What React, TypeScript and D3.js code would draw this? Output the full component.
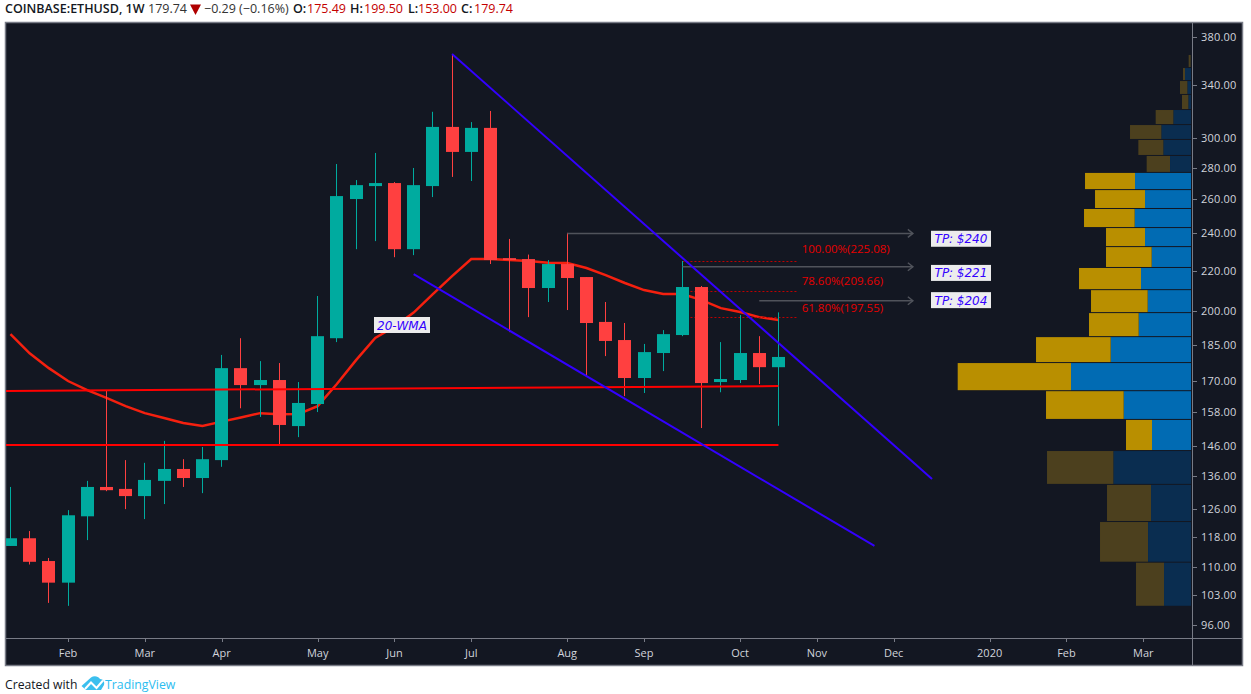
import * as d3 from 'd3'

const W = 1251
const H = 694

// weekly candles, oldest first
const OPENS = [115.5, 117.6, 111.5, 106.0, 123.8, 132.6, 132.0, 129.8, 134.5, 138.3, 135.4, 141.2, 175.1, 168.3, 170.3, 152.9, 161.0, 187.8, 260.1, 268.1, 270.0, 231.3, 268.1, 307.9, 290.4, 307.2, 226.5, 226.0, 211.2, 223.4, 216.7, 195.1, 187.0, 171.1, 181.4, 189.2, 211.7, 169.5, 170.3, 181.4, 175.49]
const HIGHS = [132.6, 119.6, 112.3, 125.6, 134.5, 166.3, 141.2, 140.3, 147.7, 141.5, 145.6, 180.6, 187.8, 178.0, 177.2, 169.5, 207.3, 282.3, 271.9, 289.7, 270.6, 279.7, 319.0, 365.2, 311.4, 319.6, 236.9, 228.4, 225.5, 240.3, 216.7, 204.4, 194.6, 185.3, 191.4, 225.0, 212.2, 186.1, 198.3, 188.7, 199.5]
const LOWS = [115.5, 110.6, 101.1, 100.4, 117.1, 131.3, 125.9, 123.0, 127.4, 132.6, 130.7, 139.0, 159.4, 156.2, 146.3, 149.0, 158.0, 186.1, 231.3, 235.7, 227.0, 228.1, 261.3, 273.9, 271.3, 223.4, 190.5, 197.3, 204.4, 200.6, 171.5, 180.1, 164.0, 165.2, 173.9, 188.7, 152.2, 165.5, 169.1, 168.7, 153.0]
const CLOSES = [117.6, 111.3, 106.0, 124.1, 132.6, 131.6, 129.8, 134.8, 138.3, 135.4, 141.5, 175.1, 168.3, 170.3, 153.3, 161.4, 188.7, 261.9, 268.7, 270.0, 231.3, 268.7, 307.9, 290.4, 307.2, 225.5, 225.5, 211.2, 223.4, 216.2, 194.6, 186.6, 171.1, 181.8, 189.6, 211.7, 169.1, 170.7, 181.4, 175.5, 179.74]
const WMA = [189.6, 181.3, 175.1, 169.9, 166.3, 163.3, 160.2, 157.6, 155.8, 154.0, 152.9, 154.5, 156.0, 157.6, 157.2, 157.3, 160.2, 168.7, 178.4, 187.9, 192.9, 199.4, 208.2, 217.2, 226.0, 226.0, 225.5, 225.0, 224.1, 223.9, 221.3, 217.7, 213.7, 210.2, 208.3, 208.3, 205.3, 201.5, 199.7, 197.3, 196.0]

const PRICE_TICKS = [380, 340, 300, 280, 260, 240, 220, 200, 185, 170, 158, 146, 136, 126, 118, 110, 103, 96]
const TIME_TICK_BARS = [3, 7, 11, 16, 20, 24, 29, 33, 38, 42, 46, 51, 55, 59]
const TIME_TICK_LABELS = ['Feb', 'Mar', 'Apr', 'May', 'Jun', 'Jul', 'Aug', 'Sep', 'Oct', 'Nov', 'Dec', '2020', 'Feb', 'Mar']

// drawings, as [bar, price] pairs
const BLUE_LINES: [number, number][][] = [
  [[23, 365.2], [48, 135.1]],
  [[21, 218.2], [45, 115.5]],
]
const RED_LINES: [number, number][][] = [
  [[-0.3, 166.0], [40, 167.9]],
  [[-0.3, 146.3], [40, 146.3]],
]
const TP_LEVELS = [240, 222, 205]
const TP_START_BARS = [29, 35, 39]
const TP_LABELS = ['TP: $240', 'TP: $221', 'TP: $204']
const TP_LABEL_PRICES = [237, 218.8, 205.3]
const FIB_PRICES = [225.08, 209.66, 197.55]
const FIB_LABELS = ['100.00%(225.08)', '78.60%(209.66)', '61.80%(197.55)']
const FIB_LABEL_PRICES = [229, 212.6, 199.5]

// volume profile rows, top to bottom
const PROFILE_EDGES = [364.8, 353.8, 343.2, 332.2, 320.7, 309.6, 299.0, 288.0, 276.8, 265.9, 254.4, 243.3, 232.7, 221.6, 210.4, 199.4, 188.5, 177.4, 166.1, 155.3, 144.4, 133.4, 122.3, 111.2, 100.3]
const PROFILE_UP = [1, 18, 11, 8, 53, 89, 83, 63, 168, 138, 169, 138, 118, 150, 130, 157, 241, 360, 202, 117, 233, 120, 129, 81]
const PROFILE_DOWN = [6, 6, 22, 19, 53, 94, 75, 70, 150, 150, 152, 117, 137, 186, 170, 149, 224, 340, 233, 78, 199, 132, 144, 84]
const VALUE_AREA = [8, 20] // rows inside the value area

const BG = '#131722'
const UP = '#00ab9f'
const DOWN = '#ff4040'
const AXIS = '#787b86'
const LABEL = '#d1d4dc'
const FONT = '"Open Sans", sans-serif'

const paneLeft = 6
const paneRight = 1192
const paneTop = 23
const paneBottom = 638

const x = d3.scaleLinear().domain([0, 40]).range([10.45, 778.45])
const y = d3.scaleLog().domain([96, 380]).range([625, 37])
const vol = d3.scaleLinear().domain([0, 700]).range([1191, 957.7])

const wmaPath = d3
  .line<number>()
  .x((_, i) => x(i))
  .y((d) => y(d))(WMA)

function Candles() {
  return (
    <g>
      {OPENS.map((open, i) => {
        const close = CLOSES[i]
        const color = close >= open ? UP : DOWN
        const top = y(Math.max(open, close))
        const bottom = y(Math.min(open, close))
        const cx = Math.floor(x(i))
        return (
          <g key={i}>
            <line x1={cx + 0.5} x2={cx + 0.5} y1={y(HIGHS[i])} y2={y(LOWS[i])} stroke={color} strokeWidth={1} />
            <rect x={cx - 6} width={13} y={top} height={Math.max(bottom - top, 1)} fill={color} />
          </g>
        )
      })}
    </g>
  )
}

function Profile() {
  return (
    <g>
      {PROFILE_UP.map((up, i) => {
        const inside = i >= VALUE_AREA[0] && i < VALUE_AREA[1]
        const top = y(PROFILE_EDGES[i]) + 0.5
        const height = y(PROFILE_EDGES[i + 1]) - y(PROFILE_EDGES[i]) - 1
        const total = up + PROFILE_DOWN[i]
        return (
          <g key={i}>
            <rect x={vol(up)} width={vol(0) - vol(up)} y={top} height={height} fill={inside ? '#016bb3' : '#0a2d50'} />
            <rect x={vol(total)} width={vol(up) - vol(total)} y={top} height={height} fill={inside ? '#b98f00' : '#4c401e'} />
          </g>
        )
      })}
    </g>
  )
}

// these sit under the candles
function FibLines() {
  return (
    <g>
      {FIB_PRICES.map((p, i) => (
        <line
          key={i}
          x1={x(35)}
          x2={x(41)}
          y1={Math.round(y(p)) + 0.5}
          y2={Math.round(y(p)) + 0.5}
          stroke="#c00000"
          strokeWidth={1}
          strokeDasharray="2 2"
        />
      ))}
    </g>
  )
}

function Drawings() {
  return (
    <g>
      {RED_LINES.map((l, i) => (
        <line key={i} x1={x(l[0][0])} y1={y(l[0][1])} x2={x(l[1][0])} y2={y(l[1][1])} stroke="#ff0000" strokeWidth={2} />
      ))}
      {FIB_LABELS.map((t, i) => (
        <text key={i} x={x(41) + 4} y={y(FIB_LABEL_PRICES[i])} fill="#e60000" fontSize={11.5} fontFamily={FONT}>
          {t}
        </text>
      ))}
      {TP_LEVELS.map((p, i) => {
        const yy = y(p)
        const end = x(47)
        return (
          <g key={i} stroke="#50535b" strokeWidth={1.5} fill="none">
            <line x1={x(TP_START_BARS[i])} x2={end} y1={yy} y2={yy} />
            <path d={`M${end - 5},${yy - 4}L${end},${yy}L${end - 5},${yy + 4}`} />
          </g>
        )
      })}
      {BLUE_LINES.map((l, i) => (
        <line key={i} x1={x(l[0][0])} y1={y(l[0][1])} x2={x(l[1][0])} y2={y(l[1][1])} stroke="#3300ff" strokeWidth={2} />
      ))}
    </g>
  )
}

function Tag({ cx, cy, w, text }: { cx: number; cy: number; w: number; text: string }) {
  return (
    <g>
      <rect x={cx} y={cy - 8} width={w} height={16} fill="#ffffff" fillOpacity={0.92} />
      <text
        x={cx + w / 2}
        y={cy + 4.5}
        textAnchor="middle"
        fontFamily='"DejaVu Sans", sans-serif'
        fontStyle="italic"
        fontSize={12}
        fill="#3300ff"
      >
        {text}
      </text>
    </g>
  )
}

function Header() {
  const red = '#c40000'
  const dark = '#131722'
  const parts: [number, string, string, boolean][] = [
    [5, 'COINBASE:ETHUSD, 1W', dark, true],
    [148, '179.74', '#333', false],
    [204, '−0.29 (−0.16%)', '#333', false],
    [293, 'O:', dark, true],
    [307, '175.49', red, false],
    [350, 'H:', dark, true],
    [364, '199.50', red, false],
    [408, 'L:', dark, true],
    [418, '153.00', red, false],
    [461, 'C:', dark, true],
    [474, '179.74', red, false],
  ]
  return (
    <g fontFamily={FONT} fontSize={12.5}>
      {parts.map(([px, t, c, b], i) => (
        <text key={i} x={px} y={13} fill={c} fontWeight={b ? 600 : 400}>
          {t}
        </text>
      ))}
      <path d="M190,4.5L201,4.5L195.5,15Z" fill="#b00000" />
    </g>
  )
}

export default function App() {
  return (
    <svg width={W} height={H} style={{ position: 'absolute', left: 0, top: 0, display: 'block', background: '#fff' }}>
      <defs>
        <clipPath id="pane">
          <rect x={paneLeft} y={paneTop} width={paneRight - paneLeft} height={paneBottom - paneTop} />
        </clipPath>
      </defs>
      <Header />
      <rect x={5.5} y={22.5} width={1237} height={643} fill={BG} stroke={AXIS} strokeWidth={1.5} />
      <g clipPath="url(#pane)">
        <Profile />
        <path d={wmaPath ?? ''} fill="none" stroke="#f5200f" strokeWidth={2.5} />
        <FibLines />
        <Candles />
        <Drawings />
        <Tag cx={374} cy={325} w={56} text="20-WMA" />
        {TP_LABELS.map((t, i) => (
          <Tag key={i} cx={931} cy={y(TP_LABEL_PRICES[i])} w={60} text={t} />
        ))}
      </g>

      {/* axes */}
      <line x1={paneRight + 0.5} x2={paneRight + 0.5} y1={23} y2={665} stroke={AXIS} />
      <line x1={6} x2={1242} y1={paneBottom + 0.5} y2={paneBottom + 0.5} stroke={AXIS} />
      {PRICE_TICKS.map((p) => (
        <g key={p}>
          <line x1={paneRight + 1} x2={paneRight + 5} y1={Math.round(y(p)) + 0.5} y2={Math.round(y(p)) + 0.5} stroke={AXIS} />
          <text x={1201} y={y(p) + 4} fontFamily={FONT} fontSize={11} letterSpacing={0.2} fill={LABEL}>
            {p.toFixed(2)}
          </text>
        </g>
      ))}
      {TIME_TICK_BARS.map((b, i) => (
        <g key={i}>
          <line x1={Math.round(x(b)) + 0.5} x2={Math.round(x(b)) + 0.5} y1={paneBottom} y2={paneBottom + 4} stroke={AXIS} />
          <text x={x(b)} y={657} textAnchor="middle" fontFamily={FONT} fontSize={11} fill={LABEL}>
            {TIME_TICK_LABELS[i]}
          </text>
        </g>
      ))}

      {/* footer */}
      <text x={5} y={689} fontFamily={FONT} fontSize={12.2} fill="#131722">
        Created with
      </text>
      <path
        d="M81.5,686 L91,677.5 C94,675.5 98,676 100,679 C103,679 105,682 104,685 L101,690 L86,690 Z"
        fill="#3bbfee"
      />
      <path d="M85,689 L91,682.5 L96.5,688 L103,680.5" fill="none" stroke="#fff" strokeWidth={2} />
      <text x={105} y={689} fontFamily={FONT} fontSize={12.3} fill="#2dbdf0">
        TradingView
      </text>
    </svg>
  )
}
